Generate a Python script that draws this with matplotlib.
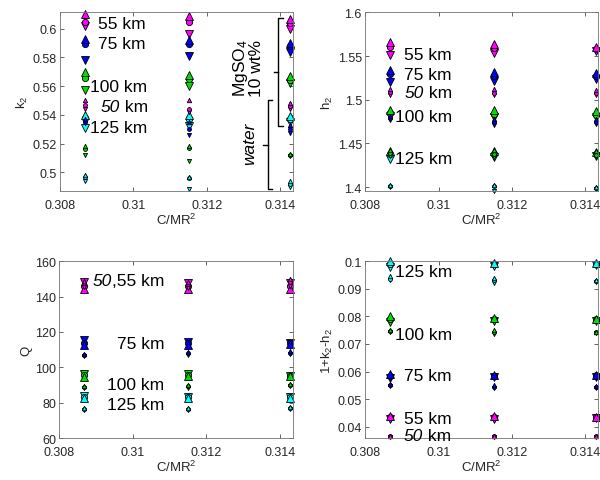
import matplotlib
matplotlib.use("Agg")
import matplotlib.pyplot as plt
import numpy as np

plt.rcParams['font.family'] = ['Liberation Sans', 'DejaVu Sans']
plt.rcParams['mathtext.fontset'] = 'custom'
plt.rcParams['mathtext.rm'] = 'Liberation Sans'
plt.rcParams['mathtext.it'] = 'Liberation Sans:italic'

# moment of inertia values (three interior models)
cmr2 = [0.30868, 0.31151, 0.31428]

# ocean configurations: MgSO4 10 wt% (large markers) and pure water (small markers)
configs = ['MgSO4 55', 'MgSO4 75', 'MgSO4 100', 'MgSO4 125',
           'water 50', 'water 75', 'water 100', 'water 125']
cfg_colors = ['#ff00ff', '#0000ff', '#00e000', '#00ffff',
              '#ff00ff', '#0000ff', '#00e000', '#00ffff']
cfg_big = [True, True, True, True, False, False, False, False]

# values per config (rows) and per C/MR^2 column; up / circle / down marker variants
k2_up = [[0.610, 0.609, 0.607], [0.593, 0.592, 0.590], [0.570, 0.568, 0.567], [0.540, 0.540, 0.539],
         [0.550, 0.550, 0.548], [0.537, 0.535, 0.533], [0.518, 0.518, 0.513], [0.498, 0.497, 0.494]]
k2_mid = [[0.605, 0.605, 0.604], [0.589, 0.589, 0.588], [0.566, 0.565, 0.564], [0.538, 0.537, 0.537],
          [0.547, 0.544, 0.546], [0.535, 0.530, 0.530], [0.516, 0.517, 0.512], [0.497, 0.496, 0.492]]
k2_down = [[0.602, 0.596, 0.600], [0.578, 0.581, 0.584], [0.557, 0.560, 0.562], [0.531, 0.532, 0.535],
           [0.544, 0.542, 0.544], [0.534, 0.526, 0.527], [0.512, 0.508, 0.511], [0.494, 0.488, 0.490]]

h2_up = [[1.566, 1.564, 1.561], [1.534, 1.532, 1.531], [1.488, 1.488, 1.487], [1.441, 1.441, 1.440],
         [1.512, 1.512, 1.511], [1.481, 1.478, 1.478], [1.442, 1.442, 1.441], [1.403, 1.402, 1.400]]
h2_mid = [[1.561, 1.559, 1.558], [1.529, 1.527, 1.527], [1.485, 1.484, 1.483], [1.438, 1.438, 1.438],
          [1.509, 1.508, 1.508], [1.479, 1.475, 1.475], [1.439, 1.438, 1.437], [1.401, 1.401, 1.399]]
h2_down = [[1.551, 1.554, 1.556], [1.520, 1.522, 1.524], [1.482, 1.480, 1.480], [1.432, 1.435, 1.436],
           [1.506, 1.505, 1.505], [1.477, 1.471, 1.472], [1.436, 1.435, 1.435], [1.400, 1.396, 1.398]]

Q_up = [[144, 144, 144.5], [112.5, 112.5, 113], [94.5, 95, 95], [82.5, 82.5, 82.5],
        [149, 148.5, 150], [107.5, 108.5, 109], [89.5, 90, 90.5], [77, 77, 77.5]]
Q_mid = [[146, 146, 146], [114, 114, 113.5], [95.5, 95.5, 95], [83, 83, 83],
         [147.5, 147, 148], [107, 108, 108], [89, 89.5, 90], [76.5, 76.5, 77]]
Q_down = [[148, 147.5, 147.5], [115.5, 114.5, 114], [96.5, 96, 95], [84, 83.5, 83],
          [145.5, 145, 146], [106.5, 107, 107.5], [88.5, 88.5, 89.5], [76, 76, 76.5]]

lag_up = [[0.0438, 0.0438, 0.0437], [0.0590, 0.0588, 0.0588], [0.0800, 0.0795, 0.0792], [0.1000, 0.0995, 0.0995],
          [0.0368, 0.0368, 0.0368], [0.0555, 0.0552, 0.0547], [0.0752, 0.0752, 0.0743], [0.0945, 0.0940, 0.0930]]
lag_mid = [[0.0434, 0.0434, 0.0434], [0.0585, 0.0585, 0.0585], [0.0790, 0.0790, 0.0788], [0.0990, 0.0990, 0.0990],
           [0.0366, 0.0366, 0.0366], [0.0552, 0.0545, 0.0545], [0.0748, 0.0745, 0.0742], [0.0935, 0.0932, 0.0928]]
lag_down = [[0.0428, 0.0430, 0.0431], [0.0578, 0.0580, 0.0582], [0.0780, 0.0782, 0.0785], [0.0980, 0.0983, 0.0985],
            [0.0364, 0.0364, 0.0364], [0.0548, 0.0540, 0.0542], [0.0742, 0.0735, 0.0740], [0.0930, 0.0922, 0.0925]]

fig = plt.figure(figsize=(6.0, 4.81), dpi=100)
ax_k2 = fig.add_axes([0.100, 0.601, 0.388, 0.371])
ax_h2 = fig.add_axes([0.609, 0.601, 0.388, 0.371])
ax_Q = fig.add_axes([0.099, 0.087, 0.389, 0.368])
ax_lag = fig.add_axes([0.609, 0.087, 0.388, 0.368])


def draw_panel(ax, up, mid, down, ylim, yticks, yticklabels, ylabel):
    for i in range(len(configs)):
        big = cfg_big[i]
        for vals, mk, ms in ((down, 'v', 5.2 if big else 3.0),
                             (mid, 'o', 4.5 if big else 2.8),
                             (up, '^', 5.6 if big else 3.2)):
            ax.plot(cmr2, vals[i], linestyle='none', marker=mk, ms=ms,
                    mfc=cfg_colors[i], mec='black', mew=0.6, clip_on=False)
    ax.set_xlim(0.308, 0.31435)
    ax.set_ylim(*ylim)
    ax.set_xticks([0.308, 0.310, 0.312, 0.314])
    ax.set_xticklabels(['0.308', '0.31', '0.312', '0.314'])
    ax.set_yticks(yticks)
    ax.set_yticklabels(yticklabels)
    ax.tick_params(direction='in', length=3, width=0.5, colors='0.15',
                   labelsize=9, top=True, right=True)
    ax.tick_params(axis='x', pad=5.5)
    ax.tick_params(axis='y', pad=2.5)
    for s in ax.spines.values():
        s.set_color('0.45')
        s.set_linewidth(0.6)
    ax.set_xlabel('C/MR$^2$', fontsize=9.5, color='0.15', labelpad=1)
    ax.set_ylabel(ylabel, fontsize=9.5, color='0.15', labelpad=2)


draw_panel(ax_k2, k2_up, k2_mid, k2_down, (0.487, 0.6113),
           [0.5, 0.52, 0.54, 0.56, 0.58, 0.6],
           ['0.5', '0.52', '0.54', '0.56', '0.58', '0.6'], 'k$_2$')
draw_panel(ax_h2, h2_up, h2_mid, h2_down, (1.3957, 1.6),
           [1.4, 1.45, 1.5, 1.55, 1.6],
           ['1.4', '1.45', '1.5', '1.55', '1.6'], 'h$_2$')
draw_panel(ax_Q, Q_up, Q_mid, Q_down, (60, 160),
           [60, 80, 100, 120, 140, 160],
           ['60', '80', '100', '120', '140', '160'], 'Q')
draw_panel(ax_lag, lag_up, lag_mid, lag_down, (0.0359, 0.1),
           [0.04, 0.05, 0.06, 0.07, 0.08, 0.09, 0.1],
           ['0.04', '0.05', '0.06', '0.07', '0.08', '0.09', '0.1'], '1+k$_2$-h$_2$')

fs = 12.5


def label(ax, x, y, text, italic_prefix=None, ha='left'):
    # text with an optional italic part in front (e.g. "50")
    if italic_prefix is None:
        ax.text(x, y, text, fontsize=fs, va='center', ha=ha)
        return
    if ha == 'left':
        t = ax.text(x, y, italic_prefix, fontsize=fs, va='center', style='italic')
        ax.annotate(text, xy=(1, 0.5), xycoords=t, fontsize=fs, va='center', ha='left')
    else:
        t = ax.text(x, y, text, fontsize=fs, va='center', ha='right')
        ax.annotate(italic_prefix, xy=(0, 0.5), xycoords=t, fontsize=fs, va='center',
                    ha='right', style='italic')


# k2 labels
label(ax_k2, 0.30904, 0.6036, '55 km')
label(ax_k2, 0.30904, 0.5897, '75 km')
label(ax_k2, 0.30882, 0.5598, '100 km')
label(ax_k2, 0.30910, 0.5459, ' km', italic_prefix='50')
label(ax_k2, 0.30882, 0.5313, '125 km')
ax_k2.text(0.31312, 0.5731, 'MgSO$_4$\n10 wt%', fontsize=fs, rotation=90,
           ha='center', va='center', linespacing=0.95)
ax_k2.text(0.31318, 0.5208, 'water', fontsize=fs, rotation=90, style='italic',
           ha='center', va='center')


def brace(ax, x, y0, y1, w):
    ym = 0.5 * (y0 + y1)
    ax.plot([x + w, x, x, x + w], [y0, y0, y1, y1], color='black', lw=1.0, clip_on=False)
    ax.plot([x, x - w], [ym, ym], color='black', lw=1.0, clip_on=False)


brace(ax_k2, 0.31395, 0.6075, 0.5320, 0.00012)
brace(ax_k2, 0.31367, 0.5505, 0.4880, 0.00012)

# h2 labels
label(ax_h2, 0.30904, 1.5524, '55 km')
label(ax_h2, 0.30904, 1.5292, '75 km')
label(ax_h2, 0.30906, 1.5087, ' km', italic_prefix='50')
label(ax_h2, 0.30882, 1.4809, '100 km')
label(ax_h2, 0.30882, 1.4326, '125 km')

# Q labels
label(ax_Q, 0.31086, 148.9, ',55 km', italic_prefix='50', ha='right')
label(ax_Q, 0.31086, 113.5, '75 km', ha='right')
label(ax_Q, 0.31086, 90.1, '100 km', ha='right')
label(ax_Q, 0.31086, 78.8, '125 km', ha='right')

# 1+k2-h2 labels
label(ax_lag, 0.30882, 0.09627, '125 km')
label(ax_lag, 0.30882, 0.07331, '100 km')
label(ax_lag, 0.30905, 0.05847, '75 km')
label(ax_lag, 0.30905, 0.04315, '55 km')
label(ax_lag, 0.30905, 0.03675, ' km', italic_prefix='50')

fig.savefig('out.png', dpi=100)
